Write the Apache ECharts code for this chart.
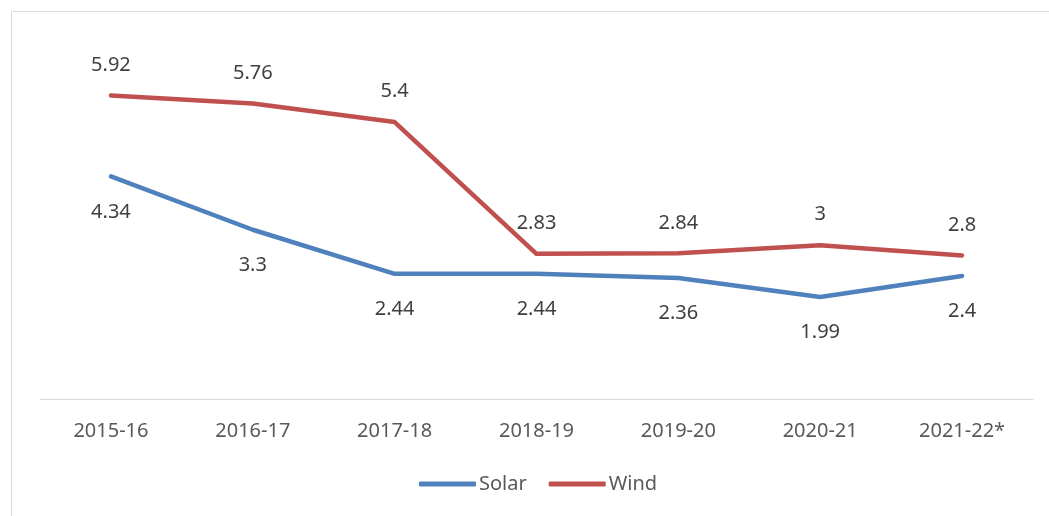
<!DOCTYPE html>
<html>
<head>
<meta charset="utf-8">
<style>
  html, body { margin: 0; padding: 0; background: #ffffff; }
  #chart { width: 1049px; height: 516px; }
</style>
<script src="https://cdn.jsdelivr.net/npm/echarts@6/dist/echarts.min.js"></script>
</head>
<body>
<div id="chart"></div>
<script>
// Tariff trend by financial year
const categories = ['2015-16', '2016-17', '2017-18', '2018-19', '2019-20', '2020-21', '2021-22*'];
const solar = [4.34, 3.3, 2.44, 2.44, 2.36, 1.99, 2.4];
const wind = [5.92, 5.76, 5.4, 2.83, 2.84, 3, 2.8];

const FONT = '"Noto Sans", "Open Sans", sans-serif';
const chart = echarts.init(document.getElementById('chart'));

function lineSeries(name, data, color, labelPos, labelDist) {
  return {
    name: name,
    type: 'line',
    data: data,
    symbol: 'circle',
    symbolSize: 1,
    showSymbol: true,
    lineStyle: { color: color, width: 4.5, cap: 'round', join: 'round' },
    itemStyle: { color: color },
    label: {
      show: true,
      position: labelPos,
      distance: labelDist,
      color: '#404040',
      fontSize: 20,
      fontFamily: FONT
    }
  };
}

chart.setOption({
  backgroundColor: '#ffffff',
  animation: false,
  textStyle: { fontFamily: FONT },
  graphic: [{
    type: 'rect',
    silent: true,
    shape: { x: 11.5, y: 11.5, width: 1045, height: 520 },
    style: { fill: 'none', stroke: '#d9d9d9', lineWidth: 1 }
  }],
  grid: { left: 40, right: 16, top: 40, bottom: 117 },
  legend: {
    bottom: 17,
    left: 414,
    icon: 'roundRect',
    itemWidth: 57,
    itemHeight: 5,
    itemGap: 22,
    textStyle: { fontSize: 20, color: '#595959', fontFamily: FONT, padding: [0, 0, 0, -2] },
    data: ['Solar', 'Wind']
  },
  xAxis: {
    type: 'category',
    data: categories,
    boundaryGap: true,
    axisLine: { lineStyle: { color: '#d9d9d9', width: 1 } },
    axisTick: { show: false },
    axisLabel: { color: '#595959', fontSize: 20, margin: 22, fontFamily: FONT }
  },
  yAxis: {
    type: 'value',
    min: 0,
    max: 7,
    interval: 1,
    show: false,
    splitLine: { show: false }
  },
  series: [
    lineSeries('Solar', solar, '#4f81bd', 'bottom', 25),
    lineSeries('Wind', wind, '#c0504d', 'top', 20)
  ]
});
</script>
</body>
</html>
